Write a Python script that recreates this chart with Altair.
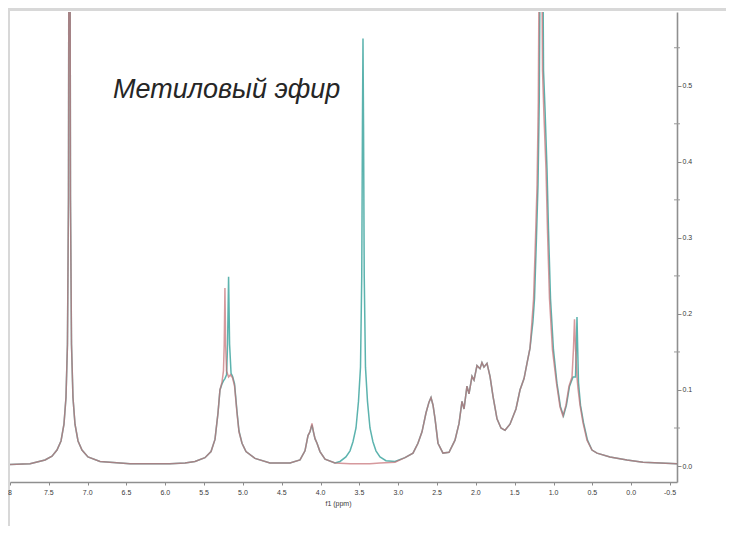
import altair as alt
import pandas as pd

# ---- data (ppm, intensity) ----
ppm_red = [8.000, 7.742, 7.549, 7.459, 7.395, 7.343, 7.305, 7.279, 7.260, 7.247,
           7.234, 7.221, 7.208, 7.189, 7.163, 7.124, 7.073, 6.996, 6.841, 6.455,
           5.940, 5.746, 5.618, 5.489, 5.411, 5.360, 5.321, 5.296, 5.270, 5.251,
           5.241, 5.232, 5.223, 5.211, 5.185, 5.160, 5.134, 5.108, 5.077, 5.051,
           5.012, 4.961, 4.845, 4.652, 4.394, 4.265, 4.201, 4.162, 4.137, 4.111,
           4.092, 4.072, 4.046, 4.008, 3.943, 3.815, 3.621, 3.364, 3.235, 3.042,
           2.913, 2.810, 2.746, 2.694, 2.642, 2.604, 2.578, 2.552, 2.526, 2.488,
           2.424, 2.346, 2.269, 2.217, 2.179, 2.153, 2.115, 2.089, 2.050, 2.024,
           1.986, 1.947, 1.922, 1.896, 1.857, 1.818, 1.780, 1.728, 1.677, 1.625,
           1.561, 1.484, 1.432, 1.380, 1.342, 1.303, 1.278, 1.257, 1.232, 1.212,
           1.196, 1.181, 1.168, 1.155, 1.142, 1.123, 1.097, 1.078, 1.052, 1.014,
           0.962, 0.917, 0.879, 0.840, 0.801, 0.762, 0.743, 0.730, 0.717, 0.698,
           0.685, 0.659, 0.621, 0.569, 0.505, 0.440, 0.273, 0.054, -0.152, -0.371,
           -0.590]
int_red = [0.002, 0.003, 0.008, 0.013, 0.021, 0.033, 0.055, 0.09, 0.16, 0.35,
           1.20, 0.35, 0.16, 0.09, 0.055, 0.033, 0.021, 0.012, 0.006, 0.003,
           0.003, 0.004, 0.006, 0.011, 0.019, 0.035, 0.07, 0.10, 0.11, 0.125,
           0.16, 0.234, 0.16, 0.125, 0.117, 0.12, 0.116, 0.105, 0.07, 0.045,
           0.030, 0.019, 0.010, 0.004, 0.004, 0.008, 0.020, 0.040, 0.045, 0.056,
           0.045, 0.036, 0.030, 0.019, 0.009, 0.004, 0.003, 0.003, 0.004, 0.005,
           0.011, 0.017, 0.030, 0.045, 0.070, 0.084, 0.090, 0.080, 0.062, 0.030,
           0.017, 0.018, 0.034, 0.056, 0.085, 0.075, 0.105, 0.095, 0.118, 0.113,
           0.132, 0.128, 0.136, 0.130, 0.135, 0.118, 0.092, 0.062, 0.050, 0.047,
           0.055, 0.075, 0.10, 0.115, 0.135, 0.155, 0.19, 0.22, 0.30, 0.37,
           0.48, 0.75, 0.95, 0.75, 0.52, 0.46, 0.39, 0.31, 0.22, 0.153,
           0.109, 0.078, 0.066, 0.08, 0.105, 0.117, 0.155, 0.193, 0.155, 0.117,
           0.102, 0.08, 0.057, 0.034, 0.021, 0.017, 0.012, 0.008, 0.005, 0.004,
           0.003]

ppm_teal = [8.000, 7.742, 7.549, 7.459, 7.395, 7.343, 7.305, 7.279, 7.260, 7.247,
            7.234, 7.221, 7.208, 7.189, 7.163, 7.124, 7.073, 6.996, 6.841, 6.455,
            5.940, 5.746, 5.618, 5.489, 5.411, 5.360, 5.321, 5.296,
            5.270, 5.251, 5.232, 5.211, 5.198, 5.185, 5.172, 5.153, 5.134, 5.108,
            5.077, 5.051, 5.012, 4.961, 4.845, 4.652, 4.394, 4.265, 4.201, 4.162,
            4.137, 4.111, 4.092, 4.072, 4.046, 4.008, 3.943, 3.815,
            3.750, 3.674, 3.621, 3.583, 3.544, 3.512, 3.486, 3.470, 3.461, 3.454,
            3.447, 3.438, 3.422, 3.396, 3.364, 3.326, 3.287, 3.235, 3.158, 3.042,
            2.913, 2.810, 2.746, 2.694, 2.642, 2.604, 2.578, 2.552, 2.526, 2.488,
            2.424, 2.346, 2.269, 2.217, 2.179, 2.153, 2.115, 2.089, 2.050, 2.024,
            1.986, 1.947, 1.922, 1.896, 1.857, 1.818, 1.780, 1.728, 1.677, 1.625,
            1.561, 1.484, 1.432, 1.380,
            1.342, 1.303, 1.265, 1.245, 1.220, 1.200, 1.184, 1.168, 1.155, 1.142,
            1.129, 1.110, 1.084, 1.065, 1.039, 1.001, 0.956, 0.911, 0.872, 0.834,
            0.794, 0.749, 0.717, 0.707, 0.698, 0.689, 0.679, 0.653, 0.614, 0.563,
            0.505, 0.440, 0.273, 0.054, -0.152, -0.371, -0.590]
int_teal = [0.002, 0.003, 0.008, 0.013, 0.021, 0.033, 0.055, 0.09, 0.16, 0.35,
            1.20, 0.35, 0.16, 0.09, 0.055, 0.033, 0.021, 0.012, 0.006, 0.003,
            0.003, 0.004, 0.006, 0.011, 0.019, 0.035, 0.07, 0.10,
            0.108, 0.112, 0.115, 0.12, 0.16, 0.249, 0.16, 0.122, 0.118, 0.108,
            0.072, 0.046, 0.030, 0.019, 0.010, 0.004, 0.004, 0.008, 0.020, 0.040,
            0.045, 0.054, 0.045, 0.036, 0.030, 0.019, 0.009, 0.004,
            0.006, 0.012, 0.02, 0.032, 0.05, 0.085, 0.13, 0.25, 0.45, 0.562,
            0.45, 0.25, 0.13, 0.085, 0.05, 0.032, 0.02, 0.012, 0.007, 0.006,
            0.011, 0.017, 0.030, 0.045, 0.070, 0.084, 0.090, 0.080, 0.062, 0.030,
            0.017, 0.018, 0.034, 0.056, 0.085, 0.075, 0.105, 0.095, 0.118, 0.113,
            0.132, 0.128, 0.136, 0.130, 0.135, 0.118, 0.092, 0.062, 0.050, 0.047,
            0.055, 0.075, 0.10, 0.115,
            0.135, 0.155, 0.19, 0.22, 0.30, 0.37, 0.48, 0.75, 0.95, 0.75,
            0.52, 0.47, 0.39, 0.31, 0.22, 0.153, 0.109, 0.078, 0.066, 0.08,
            0.105, 0.117, 0.117, 0.155, 0.196, 0.155, 0.11, 0.08, 0.057, 0.034,
            0.021, 0.017, 0.012, 0.008, 0.005, 0.004, 0.003]

x_ticks = [8.0, 7.5, 7.0, 6.5, 6.0, 5.5, 5.0, 4.5, 4.0, 3.5, 3.0, 2.5, 2.0, 1.5,
           1.0, 0.5, 0.0, -0.5]
x_labels = ["8", "7.5", "7.0", "6.5", "6.0", "5.5", "5.0", "4.5", "4.0", "3.5",
            "3.0", "2.5", "2.0", "1.5", "1.0", "0.5", "0.0", "-0.5"]
y_ticks = [0.0, 0.1, 0.2, 0.3, 0.4, 0.5]
y_minor = [0.05, 0.15, 0.25, 0.35, 0.45, 0.55]
label_text = "Метиловый эфир"
x_title = "f1 (ppm)"

assert len(ppm_red) == len(int_red)
assert len(ppm_teal) == len(int_teal)

df_red = pd.DataFrame({"ppm": ppm_red, "v": int_red})
df_teal = pd.DataFrame({"ppm": ppm_teal, "v": int_teal})
df_minor = pd.DataFrame({"v": y_minor})
df_xlab = pd.DataFrame({"ppm": x_ticks, "lab": x_labels})
dummy = pd.DataFrame({"a": [0]})

xscale = alt.Scale(domain=[8.0, -0.59], nice=False, zero=False)
yscale = alt.Scale(domain=[-0.021, 0.597], nice=False, zero=False)

x_axis = alt.Axis(values=x_ticks, grid=False, labels=False,
                  tickSize=3, tickColor="#8a8a8a", domainColor="#8f8f8f",
                  domainWidth=1.6, title=x_title,
                  titleFontSize=7, titleFontWeight="normal", titleColor="#3a3a3a",
                  titleFont="Liberation Sans", titlePadding=14, titleX=328)
y_axis = alt.Axis(orient="right", values=y_ticks, format=".1f", grid=False,
                  labelFontSize=7, labelColor="#3a3a3a", labelFont="Liberation Sans",
                  labelOverlap=False,
                  tickSize=4, tickColor="#8a8a8a", domainColor="#8f8f8f",
                  domainWidth=1.6, labelPadding=1, title="")

frame_top = alt.Chart(dummy).mark_rect(color="#d8d8d8").encode(
    x=alt.value(-2), x2=alt.value(716), y=alt.value(-4), y2=alt.value(-1))
frame_left = alt.Chart(dummy).mark_rect(color="#d8d8d8").encode(
    x=alt.value(-2), x2=alt.value(0), y=alt.value(-4), y2=alt.value(514))

teal = alt.Chart(df_teal).mark_line(color="#4aaba5", strokeWidth=1.5, clip=True,
                                    opacity=0.9).encode(
    x=alt.X("ppm:Q", scale=xscale, axis=x_axis),
    y=alt.Y("v:Q", scale=yscale, axis=y_axis),
)
red = alt.Chart(df_red).mark_line(color="#c46e74", strokeWidth=1.5, clip=True,
                                  opacity=0.7).encode(
    x=alt.X("ppm:Q", scale=xscale, axis=x_axis),
    y=alt.Y("v:Q", scale=yscale, axis=y_axis),
)
minor = alt.Chart(df_minor).mark_rule(color="#9a9a9a", strokeWidth=1).encode(
    y=alt.Y("v:Q", scale=yscale, axis=y_axis),
    x=alt.value(664), x2=alt.value(670),
)
xlabels = alt.Chart(df_xlab).mark_text(font="Liberation Sans", fontSize=7,
                                       color="#3a3a3a", baseline="middle",
                                       align="center").encode(
    x=alt.X("ppm:Q", scale=xscale, axis=x_axis),
    y=alt.value(481),
    text="lab:N",
)
label = alt.Chart(dummy).mark_text(text=label_text, font="Liberation Sans",
                                   fontStyle="italic", fontSize=27, align="left",
                                   baseline="alphabetic", color="#262626").encode(
    x=alt.value(103), y=alt.value(86))

chart = alt.layer(frame_top, frame_left, teal, red, minor, xlabels, label).properties(
    width=667, height=470,
    padding={"left": 2, "top": 4, "right": 49, "bottom": 44},
    autosize=alt.AutoSizeParams(type="none"),
    background="#ffffff",
).configure_view(strokeWidth=0)

chart.save("out.html", embed_options={"renderer": "svg", "actions": False})
